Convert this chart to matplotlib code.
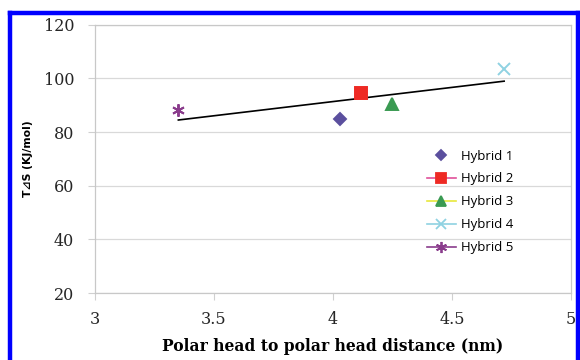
import matplotlib
matplotlib.use("Agg")
import matplotlib.pyplot as plt
from matplotlib.lines import Line2D
import numpy as np

names = ["Hybrid 1", "Hybrid 2", "Hybrid 3", "Hybrid 4", "Hybrid 5"]
dist = [4.03, 4.12, 4.25, 4.72, 3.35]
tds = [84.9, 94.6, 90.5, 103.6, 88.3]

markers = ["D", "s", "^", "x", (6, 2, 0)]
mcolors = ["#5b4f9e", "#ee2a24", "#3a9a52", "#8fd2e2", "#8a3c8c"]
lcolors = [None, "#e0509a", "#e8e83c", "#8fd2e2", "#8a3c8c"]
msizes = [6, 8, 8, 8, 9]

fig = plt.figure(figsize=(5.8, 3.6), dpi=100)
ax = fig.add_axes([0.164, 0.186, 0.820, 0.745])

for i in range(5):
    ax.plot(dist[i], tds[i], linestyle="none", marker=markers[i], color=mcolors[i],
            markersize=msizes[i], markeredgewidth=1.4, zorder=3)

# linear trend line (Excel style)
k, b = np.polyfit(dist, tds, 1)
xs = np.array([min(dist), max(dist)])
ax.plot(xs, k * xs + b, color="black", lw=1.2, zorder=2)

ax.set_xlim(3, 5)
ax.set_ylim(20, 120)
ax.set_xticks([3, 3.5, 4, 4.5, 5])
ax.set_xticklabels(["3", "3.5", "4", "4.5", "5"])
ax.set_yticks([20, 40, 60, 80, 100, 120])
ax.grid(axis="y", color="#d9d9d9", lw=0.9)
ax.set_axisbelow(True)
for s in ax.spines.values():
    s.set_color("#c8c8c8")
    s.set_linewidth(0.9)
ax.tick_params(axis="both", color="#d0d0d0", length=5, labelsize=11.5, labelcolor="#262626")
ax.tick_params(axis="x", pad=8)
ax.tick_params(axis="y", pad=10)
for lab in ax.get_xticklabels() + ax.get_yticklabels():
    lab.set_family("DejaVu Serif")

ax.set_xlabel("Polar head to polar head distance (nm)", family="DejaVu Serif",
              fontweight="bold", fontsize=11.2, labelpad=7)
ax.set_ylabel("T⊿S (KJ/mol)", family=["DejaVu Sans"], fontweight="bold", fontsize=7.8, labelpad=8)

handles = []
for i in range(5):
    ls = "none" if lcolors[i] is None else "-"
    handles.append(Line2D([0], [0], linestyle=ls, color=lcolors[i] or mcolors[i], lw=1.2,
                          marker=markers[i], markerfacecolor=mcolors[i], markeredgecolor=mcolors[i],
                          markersize=msizes[i] - 1, markeredgewidth=1.3))
ax.legend(handles, names, loc="center left", bbox_to_anchor=(0.672, 0.34), frameon=False,
          prop={"family": "Open Sans", "size": 9.5}, handlelength=2.2, labelspacing=0.75,
          handletextpad=0.4)

# blue frame around the figure
fig.add_artist(Line2D([10 / 580, 10 / 580], [0, 1 - 13 / 360], color="#0000ff", lw=3.2,
                      transform=fig.transFigure))
fig.add_artist(Line2D([10 / 580, 578 / 580], [1 - 13 / 360, 1 - 13 / 360], color="#0000ff", lw=3.2,
                      transform=fig.transFigure))
fig.add_artist(Line2D([578 / 580, 578 / 580], [0, 1 - 13 / 360], color="#0000ff", lw=3.2,
                      transform=fig.transFigure))

fig.savefig("out.png", dpi=100)
